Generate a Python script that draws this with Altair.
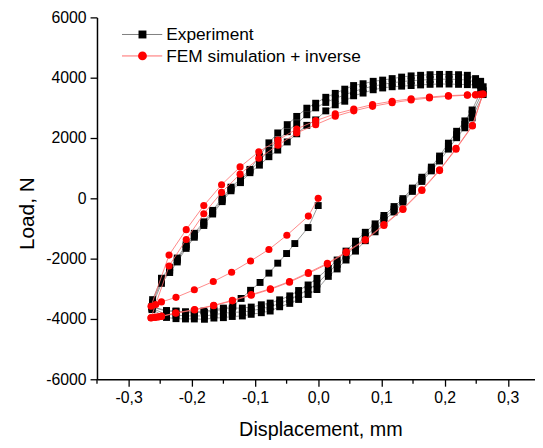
import altair as alt
import pandas as pd

# ---------------- data ----------------
# Experiment: initial compression branch
exp_init_x = [0.000, -0.016, -0.037, -0.050, -0.064, -0.078, -0.092, -0.107, -0.122, -0.135,
              -0.150, -0.165, -0.181, -0.196, -0.210, -0.225, -0.240, -0.263]
exp_init_y = [-240, -970, -1500, -1830, -2150, -2480, -2790, -3050, -3320, -3580,
              -3640, -3700, -3740, -3760, -3760, -3740, -3720, -3600]

# Experiment: loading (upper) branch displacement grid
exp_up_x = [-0.262, -0.248, -0.235, -0.223, -0.209, -0.196, -0.181, -0.167, -0.152, -0.138,
            -0.123, -0.108, -0.093, -0.078, -0.064, -0.049, -0.034, -0.018, -0.004, 0.012,
            0.027, 0.042, 0.056, 0.071, 0.087, 0.102, 0.117, 0.132, 0.147, 0.162,
            0.177, 0.192, 0.207, 0.222, 0.236, 0.249, 0.257, 0.261]
exp_up_c1 = [-3360, -2650, -2300, -1980, -1540, -1160, -780, -400, 10, 370,
             640, 960, 1400, 1840, 2168, 2443, 2716, 2989, 3153, 3350,
             3480, 3620, 3740, 3800, 3880, 3920, 3970, 4020, 4060, 4080,
             4100, 4110, 4110, 4100, 4080, 3970, 3880, 3700]
exp_up_c2 = [-3450, -2730, -2380, -2046, -1600, -1225, -841, -460, -53, 309,
             581, 910, 1240, 1600, 1930, 2210, 2480, 2770, 3000, 3180,
             3310, 3430, 3540, 3640, 3720, 3780, 3830, 3870, 3900, 3920,
             3940, 3950, 3950, 3940, 3920, 3860, 3740, 3570]
exp_up_c3 = [-3530, -2820, -2460, -2110, -1660, -1290, -900, -520, -110, 250,
             520, 850, 1100, 1380, 1600, 1870, 2140, 2420, 2600, 2900,
             3100, 3220, 3400, 3490, 3600, 3660, 3700, 3720, 3740, 3760,
             3780, 3790, 3790, 3780, 3770, 3760, 3600, 3440]

# Experiment: unloading (lower) branch displacement grid
exp_lo_x = [0.2435, 0.232, 0.219, 0.206, 0.192, 0.179, 0.164, 0.149, 0.134, 0.120,
            0.104, 0.090, 0.0745, 0.059, 0.044, 0.030, 0.016, -0.002, -0.016, -0.031,
            -0.045, -0.061, -0.076, -0.090, -0.106, -0.120, -0.136, -0.150, -0.165, -0.180,
            -0.196, -0.210, -0.225, -0.240, -0.263]
exp_lo_c1 = [2930, 2568, 2223, 1829, 1402, 1035, 700, 340, -10, -273,
             -568, -847, -1126, -1422, -1750, -2046, -2325, -2653, -2873, -3057,
             -3235, -3366, -3474, -3530, -3606, -3639, -3639, -3672, -3740, -3780,
             -3790, -3790, -3747, -3747, -3600]
exp_lo_c2 = [2800, 2450, 2110, 1730, 1320, 970, 630, 286, -70, -360,
             -650, -980, -1265, -1585, -1900, -2190, -2460, -2840, -3030, -3200,
             -3360, -3480, -3600, -3660, -3730, -3770, -3780, -3810, -3860, -3900,
             -3900, -3900, -3870, -3850, -3650]
exp_lo_c3 = [2667, 2338, 2010, 1632, 1238, 910, 560, 230, -125, -453,
             -730, -1110, -1405, -1750, -2046, -2342, -2588, -3025, -3189, -3353,
             -3484, -3596, -3737, -3793, -3846, -3901, -3918, -3957, -3970, -4010,
             -4000, -4000, -3990, -3950, -3690]

# FEM simulation + inverse
fem_init_x = [0.000, -0.0156, -0.0496, -0.078, -0.107, -0.137, -0.166, -0.196, -0.225, -0.248, -0.257, -0.2645]
fem_init_y = [0, -590, -1225, -1695, -2079, -2450, -2759, -3031, -3284, -3435, -3524, -3580]

fem_up_x = [-0.236, -0.2088, -0.181, -0.1529, -0.1236, -0.094, -0.0637, -0.034, -0.004, 0.027,
            0.0563, 0.086, 0.117, 0.147, 0.176, 0.206, 0.236, 0.249, 0.257, 0.2607]
fem_up_a = [-1882, -1038, -240, 450, 1041, 1543, 1928, 2300, 2575, 2800,
            2960, 3110, 3220, 3300, 3360, 3405, 3430, 3435, 3450, 3461]
fem_up_b = [-2243, -1366, -512, 197, 801, 1327, 1763, 2167, 2443, 2720,
            2900, 3050, 3170, 3260, 3330, 3385, 3420, 3430, 3445, 3461]

fem_lo_x = [0.244, 0.218, 0.192, 0.164, 0.134, 0.104, 0.0745, 0.0443, 0.0145, -0.0156,
            -0.0454, -0.0757, -0.106, -0.1357, -0.1654, -0.1956, -0.2253, -0.248, -0.253, -0.258, -0.2645]
fem_lo_a = [2420, 1655, 943, 286, -348, -874, -1366, -1773, -2154, -2463,
            -2758, -2998, -3195, -3383, -3547, -3688, -3797, -3908, -3928, -3941, -3961]
fem_lo_b = [2400, 1630, 920, 260, -370, -900, -1390, -1800, -2180, -2490,
            -2780, -3020, -3215, -3400, -3560, -3700, -3810, -3915, -3935, -3950, -3965]

legend_labels = ["Experiment", "FEM simulation + inverse"]

x_major_ticks = [-0.3, -0.2, -0.1, 0.0, 0.1, 0.2, 0.3]
x_minor_ticks = [-0.35, -0.25, -0.15, -0.05, 0.05, 0.15, 0.25]
y_tick_values = [-6000, -5000, -4000, -3000, -2000, -1000, 0, 1000, 2000, 3000, 4000, 5000, 6000]

# ---------------- tables ----------------
exp_x = exp_init_x + exp_up_x + exp_lo_x + exp_up_x + exp_lo_x + exp_up_x + exp_lo_x
exp_y = exp_init_y + exp_up_c1 + exp_lo_c1 + exp_up_c2 + exp_lo_c2 + exp_up_c3 + exp_lo_c3
fem_x = fem_init_x + fem_up_x + fem_lo_x + fem_up_x + fem_lo_x
fem_y = fem_init_y + fem_up_a + fem_lo_a + fem_up_b + fem_lo_b

exp_df = pd.DataFrame({"x": exp_x, "y": exp_y, "i": list(range(len(exp_x)))})
fem_df = pd.DataFrame({"x": fem_x, "y": fem_y, "i": list(range(len(fem_x)))})
minor_df = pd.DataFrame({"x": x_minor_ticks})

FONT = "Liberation Sans"
H = 366

xscale = alt.Scale(domain=[-0.35, 0.343], nice=False, zero=False)
yscale = alt.Scale(domain=[-6000, 6000], nice=False, zero=False)

xaxis = alt.Axis(
    values=x_major_ticks,
    labelExpr="replace(replace(format(datum.value, '.1f'), '.', ','), '\u2212', '-')",
    tickSize=7,
    title="Displacement, mm", titleFontSize=20, titleFontWeight="normal",
    titleBaseline="alphabetic", titleY=57, titleX=226,
    labelFontSize=16, labelPadding=3, labelFlush=False, labelOverlap=False,
    grid=False, domainColor="black", domainWidth=1.5, tickColor="black", tickWidth=1.3,
    labelColor="black", titleColor="black", labelFont=FONT, titleFont=FONT,
)
yaxis = alt.Axis(
    values=y_tick_values,
    labelExpr="datum.value % 2000 == 0 ? replace(format(datum.value, 'd'), '\u2212', '-') : ''",
    tickSize={"condition": {"test": "datum.value % 2000 == 0", "value": 7}, "value": 4},
    title="Load, N", titleFontSize=21, titleFontWeight="normal",
    titleBaseline="alphabetic", titleAngle=270, titleX=-64, titleY=198, titleAlign="center",
    labelFontSize=16, labelPadding=4, labelFlush=False, labelOverlap=False,
    grid=False, domainColor="black", domainWidth=1.5, tickColor="black", tickWidth=1.3,
    labelColor="black", titleColor="black", labelFont=FONT, titleFont=FONT,
)

base_exp = alt.Chart(exp_df)
base_fem = alt.Chart(fem_df)

exp_line = base_exp.mark_line(color="#7f7f7f", strokeWidth=0.8).encode(
    x=alt.X("x:Q", scale=xscale, axis=xaxis),
    y=alt.Y("y:Q", scale=yscale, axis=yaxis),
    order="i:Q",
)
exp_pts = base_exp.mark_point(shape="square", filled=True, size=49, color="black", opacity=1).encode(
    x=alt.X("x:Q", scale=xscale), y=alt.Y("y:Q", scale=yscale)
)
fem_line = base_fem.mark_line(color="#ff6a6a", strokeWidth=0.8).encode(
    x=alt.X("x:Q", scale=xscale), y=alt.Y("y:Q", scale=yscale), order="i:Q"
)
fem_pts = base_fem.mark_point(shape="circle", filled=True, size=52, color="#ff0000", opacity=1).encode(
    x=alt.X("x:Q", scale=xscale), y=alt.Y("y:Q", scale=yscale)
)

# minor ticks of the x axis (short, outside)
minor = alt.Chart(minor_df).mark_rule(color="black", strokeWidth=1.3).encode(
    x=alt.X("x:Q", scale=xscale), y=alt.value(H), y2=alt.value(H + 4.5)
)

# ---------------- legend (drawn in pixels) ----------------
lg0 = alt.Chart(pd.DataFrame({"t": [legend_labels[0]]}))
lg1 = alt.Chart(pd.DataFrame({"t": [legend_labels[1]]}))
leg = [
    lg0.mark_rule(color="#7f7f7f", strokeWidth=1).encode(x=alt.value(25.3), x2=alt.value(66), y=alt.value(17.3)),
    lg0.mark_point(shape="square", filled=True, size=64, color="black", opacity=1).encode(x=alt.value(46), y=alt.value(17.3)),
    lg0.mark_text(align="left", baseline="alphabetic", fontSize=17.5, font=FONT, color="black").encode(
        text="t:N", x=alt.value(70), y=alt.value(22.8)),
    lg1.mark_rule(color="#ff6a6a", strokeWidth=1).encode(x=alt.value(25.3), x2=alt.value(66), y=alt.value(39)),
    lg1.mark_point(shape="circle", filled=True, size=80, color="#ff0000", opacity=1).encode(x=alt.value(46), y=alt.value(39)),
    lg1.mark_text(align="left", baseline="alphabetic", fontSize=17.5, font=FONT, color="black").encode(
        text="t:N", x=alt.value(70), y=alt.value(44.8)),
]

chart = alt.layer(exp_line, exp_pts, fem_line, fem_pts, minor, *leg).properties(
    width=443, height=H,
    padding={"left": 90, "top": 7, "right": 0, "bottom": 65},
    autosize=alt.AutoSizeParams(type="none"),
).configure_view(stroke=None)

chart.save("out.html", embed_options={"renderer": "svg", "actions": False})
